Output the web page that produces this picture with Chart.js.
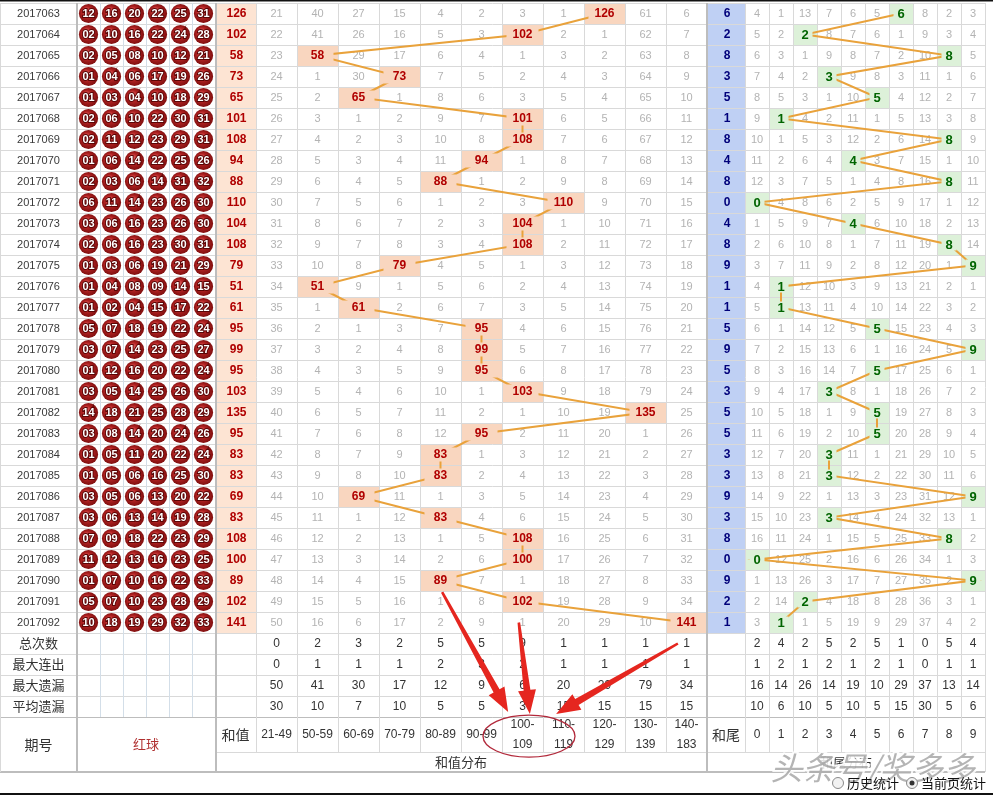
<!DOCTYPE html>
<html>
<head>
<meta charset="utf-8">
<script src="https://cdn.jsdelivr.net/npm/chart.js"></script>
<style>
html,body{margin:0;padding:0;background:#fff;}
#wrap{width:993px;height:795px;position:relative;}
</style>
</head>
<body>
<div id="wrap"><canvas id="c"></canvas></div>
<script>
// ---------------- DATA ----------------
const periods = ['2017063','2017064','2017065','2017066','2017067','2017068','2017069','2017070','2017071','2017072',
  '2017073','2017074','2017075','2017076','2017077','2017078','2017079','2017080','2017081','2017082',
  '2017083','2017084','2017085','2017086','2017087','2017088','2017089','2017090','2017091','2017092'];

const redBalls = [
  [12,16,20,22,25,31],[2,10,16,22,24,28],[2,5,8,10,12,21],[1,4,6,17,19,26],[1,3,4,10,18,29],
  [2,6,10,22,30,31],[2,11,12,23,29,31],[1,6,14,22,25,26],[2,3,6,14,31,32],[6,11,14,23,26,30],
  [3,6,16,23,26,30],[2,6,16,23,30,31],[1,3,6,19,21,29],[1,4,8,9,14,15],[1,2,4,15,17,22],
  [5,7,18,19,22,24],[3,7,14,23,25,27],[1,12,16,20,22,24],[3,5,14,25,26,30],[14,18,21,25,28,29],
  [3,8,14,20,24,26],[1,5,11,20,22,24],[1,5,6,16,25,30],[3,5,6,13,20,22],[3,6,13,14,19,28],
  [7,9,18,22,23,29],[11,12,13,16,23,25],[1,7,10,16,22,33],[5,7,10,23,28,29],[10,18,19,29,32,33]
];

const sums = [126,102,58,73,65,101,108,94,88,110,104,108,79,51,61,95,99,95,103,135,95,83,83,69,83,108,100,89,102,141];

const sumBuckets = ['21-49','50-59','60-69','70-79','80-89','90-99','100-109','110-119','120-129','130-139','140-183'];

// omission table of the sum distribution (0 = hit cell)
const sumMiss = [
  [21,40,27,15,4,2,3,1,0,61,6],[22,41,26,16,5,3,0,2,1,62,7],[23,0,29,17,6,4,1,3,2,63,8],
  [24,1,30,0,7,5,2,4,3,64,9],[25,2,0,1,8,6,3,5,4,65,10],[26,3,1,2,9,7,0,6,5,66,11],
  [27,4,2,3,10,8,0,7,6,67,12],[28,5,3,4,11,0,1,8,7,68,13],[29,6,4,5,0,1,2,9,8,69,14],
  [30,7,5,6,1,2,3,0,9,70,15],[31,8,6,7,2,3,0,1,10,71,16],[32,9,7,8,3,4,0,2,11,72,17],
  [33,10,8,0,4,5,1,3,12,73,18],[34,0,9,1,5,6,2,4,13,74,19],[35,1,0,2,6,7,3,5,14,75,20],
  [36,2,1,3,7,0,4,6,15,76,21],[37,3,2,4,8,0,5,7,16,77,22],[38,4,3,5,9,0,6,8,17,78,23],
  [39,5,4,6,10,1,0,9,18,79,24],[40,6,5,7,11,2,1,10,19,0,25],[41,7,6,8,12,0,2,11,20,1,26],
  [42,8,7,9,0,1,3,12,21,2,27],[43,9,8,10,0,2,4,13,22,3,28],[44,10,0,11,1,3,5,14,23,4,29],
  [45,11,1,12,0,4,6,15,24,5,30],[46,12,2,13,1,5,0,16,25,6,31],[47,13,3,14,2,6,0,17,26,7,32],
  [48,14,4,15,0,7,1,18,27,8,33],[49,15,5,16,1,8,0,19,28,9,34],[50,16,6,17,2,9,1,20,29,10,0]
];

const tailDigits = ['0','1','2','3','4','5','6','7','8','9'];

// omission table of the tail distribution (0 = hit cell)
const tailMiss = [
  [4,1,13,7,6,5,0,8,2,3],[5,2,0,8,7,6,1,9,3,4],[6,3,1,9,8,7,2,10,0,5],[7,4,2,0,9,8,3,11,1,6],
  [8,5,3,1,10,0,4,12,2,7],[9,0,4,2,11,1,5,13,3,8],[10,1,5,3,12,2,6,14,0,9],[11,2,6,4,0,3,7,15,1,10],
  [12,3,7,5,1,4,8,16,0,11],[0,4,8,6,2,5,9,17,1,12],[1,5,9,7,0,6,10,18,2,13],[2,6,10,8,1,7,11,19,0,14],
  [3,7,11,9,2,8,12,20,1,0],[4,0,12,10,3,9,13,21,2,1],[5,0,13,11,4,10,14,22,3,2],[6,1,14,12,5,0,15,23,4,3],
  [7,2,15,13,6,1,16,24,5,0],[8,3,16,14,7,0,17,25,6,1],[9,4,17,0,8,1,18,26,7,2],[10,5,18,1,9,0,19,27,8,3],
  [11,6,19,2,10,0,20,28,9,4],[12,7,20,0,11,1,21,29,10,5],[13,8,21,0,12,2,22,30,11,6],[14,9,22,1,13,3,23,31,12,0],
  [15,10,23,0,14,4,24,32,13,1],[16,11,24,1,15,5,25,33,0,2],[0,12,25,2,16,6,26,34,1,3],[1,13,26,3,17,7,27,35,2,0],
  [2,14,0,4,18,8,28,36,3,1],[3,0,1,5,19,9,29,37,4,2]
];

const statLabels = ['总次数','最大连出','最大遗漏','平均遗漏'];
const sumTotal   = [0,2,3,2,5,5,9,1,1,1,1];
const sumMaxRun  = [0,1,1,1,2,3,2,1,1,1,1];
const sumMaxMiss = [50,41,30,17,12,9,6,20,29,79,34];
const sumAvgMiss = [30,10,7,10,5,5,3,15,15,15,15];
const tailTotal   = [2,4,2,5,2,5,1,0,5,4];
const tailMaxRun  = [1,2,1,2,1,2,1,0,1,1];
const tailMaxMiss = [16,14,26,14,19,10,29,37,13,14];
const tailAvgMiss = [10,6,10,5,10,5,15,30,5,6];

// ---------------- DERIVED ----------------
const bucketRanges = sumBuckets.map(l => l.split('-').map(Number));
const bucketOf = s => bucketRanges.findIndex(([a, b]) => s >= a && s <= b);
const sumHit = sums.map(bucketOf);
const tails = sums.map(s => s % 10);
const sumStats = [sumTotal, sumMaxRun, sumMaxMiss, sumAvgMiss];
const tailStats = [tailTotal, tailMaxRun, tailMaxMiss, tailAvgMiss];

// ---------------- STYLE ----------------
const SANS = '"Liberation Sans", Arial, sans-serif';
const CJK = '"Noto Sans CJK SC", sans-serif';
const C = {
  peach: '#fde4d3', hit: '#f9d6bf', blue: '#bfd0f4', green: '#ddf1d9',
  line: '#e9a23b', grid: '#d9d9d9', gridBall: '#d3dee8', sep: '#bdbdbd',
  miss: '#b3b3b3', sumText: '#b00000', tailText: '#00007a', tailHit: '#006400',
  text: '#333333', arrow: '#e5261f'
};

function txt(ctx, s, x, y, font, color, align) {
  ctx.font = font; ctx.fillStyle = color; ctx.textAlign = align || 'center';
  ctx.textBaseline = 'middle'; ctx.fillText(String(s), x, y);
}
function vline(ctx, x, y0, y1, color, w) {
  ctx.beginPath(); ctx.strokeStyle = color; ctx.lineWidth = w || 1;
  const xx = (w || 1) % 2 ? Math.round(x) + 0.5 : Math.round(x);
  ctx.moveTo(xx, y0); ctx.lineTo(xx, y1); ctx.stroke();
}
function hline(ctx, y, x0, x1, color, w) {
  ctx.beginPath(); ctx.strokeStyle = color; ctx.lineWidth = w || 1;
  const yy = (w || 1) % 2 ? Math.round(y) + 0.5 : Math.round(y);
  ctx.moveTo(x0, yy); ctx.lineTo(x1, yy); ctx.stroke();
}
function arrow(ctx, x0, y0, x1, y1, color) {
  const dx = x1 - x0, dy = y1 - y0, L = Math.hypot(dx, dy), ux = dx / L, uy = dy / L, nx = -uy, ny = ux;
  const headL = 24, headW = 9, w0 = 1.3, w1 = 3.4;
  const bx = x1 - ux * headL, by = y1 - uy * headL;
  ctx.beginPath();
  ctx.moveTo(x0 + nx * w0, y0 + ny * w0);
  ctx.lineTo(bx + nx * w1, by + ny * w1);
  ctx.lineTo(bx + nx * headW, by + ny * headW);
  ctx.lineTo(x1, y1);
  ctx.lineTo(bx - nx * headW, by - ny * headW);
  ctx.lineTo(bx - nx * w1, by - ny * w1);
  ctx.lineTo(x0 - nx * w0, y0 - ny * w0);
  ctx.closePath(); ctx.fillStyle = color; ctx.fill();
}

function helpers(chart) {
  const s = chart.scales;
  return {
    xs: v => s.xs.getPixelForValue(v), xt: v => s.xt.getPixelForValue(v),
    xb: v => s.xb.getPixelForValue(v), y: v => s.y.getPixelForValue(v)
  };
}

const HDR_UP = 35 / 21, HDR_ALL = 55 / 21;   // header heights in row units

const tablePlugin = {
  id: 'lotteryTable',
  beforeDatasetsDraw(chart) {
    const ctx = chart.ctx; const { xs, xt, xb, y } = helpers(chart);
    const N = periods.length, NS = statLabels.length, NB = sumBuckets.length, NT = tailDigits.length;
    const pR = xb(0), bR = xb(6), sR = xs(0), dR = xs(NB), tR = xt(0), eR = xt(NT);
    const yTop = y(0), yData = y(N), yStat = y(N + NS), yHU = y(N + NS + HDR_UP), yHB = y(N + NS + HDR_ALL);
    ctx.save();
    ctx.fillStyle = '#fff'; ctx.fillRect(0, 0, chart.width, chart.height);
    ctx.fillStyle = C.peach; ctx.fillRect(bR, yTop, sR - bR, yData - yTop);
    ctx.fillStyle = C.blue; ctx.fillRect(dR + 1, yTop, tR - dR - 1, yData - yTop);
    for (let i = 0; i < N; i++) {
      const b = sumHit[i], t = tails[i];
      ctx.fillStyle = C.hit; ctx.fillRect(xs(b), y(i), xs(b + 1) - xs(b), y(i + 1) - y(i));
      ctx.fillStyle = C.green; ctx.fillRect(xt(t), y(i), xt(t + 1) - xt(t), y(i + 1) - y(i));
    }
    for (let r = 0; r <= N + NS; r++) hline(ctx, y(r), 0, eR, C.grid, 1);
    hline(ctx, yHU, bR, eR, C.grid, 1);
    hline(ctx, yStat, 0, eR, C.sep, 1);
    hline(ctx, yHB, 0, eR, C.sep, 2);
    vline(ctx, 0, yTop, yHB, C.grid, 1);
    for (let k = 1; k < 6; k++) vline(ctx, xb(k), yTop, yStat, C.gridBall, 1);
    for (let j = 1; j < NB; j++) vline(ctx, xs(j), yTop, yHU, C.grid, 1);
    vline(ctx, sR, yTop, yHU, C.grid, 1);
    for (let j = 1; j < NT; j++) vline(ctx, xt(j), yTop, yHU, C.grid, 1);
    vline(ctx, tR, yTop, yHU, C.grid, 1);
    vline(ctx, eR, yTop, yHB, C.grid, 1);
    vline(ctx, pR, yTop, yHB, C.sep, 2);
    vline(ctx, bR + 1, yTop, yHB, C.sep, 2);
    vline(ctx, dR, yTop, yHB, C.sep, 2);

    for (let i = 0; i < N; i++) {
      const cy = y(i + 0.5);
      txt(ctx, periods[i], pR / 2, cy, '11px ' + SANS, '#3a3a3a');
      redBalls[i].forEach((n, k) => {
        const cx = xb(k + 0.5);
        const g = ctx.createRadialGradient(cx - 3, cy - 3, 1, cx, cy, 10);
        g.addColorStop(0, '#e86a6a'); g.addColorStop(0.45, '#b52424'); g.addColorStop(1, '#7c0d0d');
        ctx.beginPath(); ctx.arc(cx, cy, 9.6, 0, Math.PI * 2); ctx.fillStyle = g; ctx.fill();
        const s = String(n).padStart(2, '0');
        ctx.font = 'bold 11px ' + SANS; ctx.textAlign = 'center'; ctx.textBaseline = 'middle';
        ctx.lineWidth = 2; ctx.strokeStyle = '#5a0505'; ctx.strokeText(s, cx, cy + 0.5);
        ctx.fillStyle = '#fff'; ctx.fillText(s, cx, cy + 0.5);
      });
      txt(ctx, sums[i], (bR + sR) / 2 + 1, cy, 'bold 12px ' + SANS, C.sumText);
      sumMiss[i].forEach((v, j) => { if (j !== sumHit[i]) txt(ctx, v, xs(j + 0.5), cy, '11px ' + SANS, C.miss); });
      txt(ctx, tails[i], (dR + tR) / 2 + 1, cy, 'bold 12px ' + SANS, C.tailText);
      tailMiss[i].forEach((v, j) => { if (j !== tails[i]) txt(ctx, v, xt(j + 0.5), cy, '11px ' + SANS, C.miss); });
    }
    for (let r = 0; r < NS; r++) {
      const cy = y(N + r + 0.5);
      txt(ctx, statLabels[r], pR / 2, cy, '13px ' + CJK, C.text);
      sumStats[r].forEach((v, j) => txt(ctx, v, xs(j + 0.5), cy, '12px ' + SANS, C.text));
      tailStats[r].forEach((v, j) => txt(ctx, v, xt(j + 0.5), cy, '12px ' + SANS, C.text));
    }
    const hMid = (yStat + yHB) / 2, uMid = (yStat + yHU) / 2, lMid = (yHU + yHB) / 2;
    txt(ctx, '期号', pR / 2, hMid, '14px ' + CJK, C.text);
    txt(ctx, '红球', (pR + bR) / 2, hMid, '13px ' + CJK, '#b03030');
    txt(ctx, '和值', (bR + sR) / 2, uMid, '14px ' + CJK, C.text);
    sumBuckets.forEach((l, j) => {
      const cx = xs(j + 0.5);
      if (l.length > 5) {
        const [a, b] = l.split('-');
        txt(ctx, a + '-', cx, uMid - 10, '12px ' + SANS, C.text);
        txt(ctx, b, cx, uMid + 10, '12px ' + SANS, C.text);
      } else txt(ctx, l, cx, uMid, '12px ' + SANS, C.text);
    });
    txt(ctx, '和值分布', (bR + dR) / 2, lMid, '13px ' + CJK, C.text);
    txt(ctx, '和尾', (dR + tR) / 2, uMid, '14px ' + CJK, C.text);
    tailDigits.forEach((d, j) => txt(ctx, d, xt(j + 0.5), uMid, '12px ' + SANS, C.text));
    txt(ctx, '和尾分布', (dR + eR) / 2, lMid, '13px ' + CJK, C.text);
    ctx.restore();
  },
  beforeDatasetDraw(chart, args) {
    const ctx = chart.ctx; const { xs, xt, y } = helpers(chart);
    ctx.save();
    ctx.beginPath();
    ctx.rect(0, 0, chart.width, chart.height);
    if (args.index === 0) sumHit.forEach((b, i) => { const cx = xs(b + 0.5), cy = y(i + 0.5); ctx.rect(cx - 16, cy - 7, 32, 14); });
    else tails.forEach((t, i) => { const cx = xt(t + 0.5), cy = y(i + 0.5); ctx.rect(cx - 7.5, cy - 6, 15, 12); });
    ctx.clip('evenodd');
  },
  afterDatasetDraw(chart) { chart.ctx.restore(); },
  afterDatasetsDraw(chart) {
    const ctx = chart.ctx; const { xs, xt, y } = helpers(chart);
    const N = periods.length, NS = statLabels.length, NT = tailDigits.length;
    ctx.save();
    for (let i = 0; i < N; i++) {
      const cy = y(i + 0.5);
      txt(ctx, sums[i], xs(sumHit[i] + 0.5), cy + 0.5, 'bold 12px ' + SANS, C.sumText);
      txt(ctx, tails[i], xt(tails[i] + 0.5), cy + 0.5, 'bold 13px ' + SANS, C.tailHit);
    }
    const hy = y(N + NS + HDR_UP / 2 + 0.08);
    ctx.beginPath(); ctx.ellipse(xs(7) - 14, hy, 46, 21, 0, 0, Math.PI * 2);
    ctx.strokeStyle = '#b2283a'; ctx.lineWidth = 1.3; ctx.stroke();
    arrow(ctx, xs(4.54), y(28.05), xs(6.15), y(33.76), C.arrow);
    arrow(ctx, xs(6.41), y(29.5), xs(6.68), y(33.86), C.arrow);
    arrow(ctx, xs(10.29), y(30.5), xs(7.32), y(33.86), C.arrow);

    const eR = xt(NT), yb = y(N + NS + HDR_ALL);
    ctx.font = 'italic 32px ' + CJK; ctx.textAlign = 'right'; ctx.textBaseline = 'middle';
    ctx.lineWidth = 4; ctx.strokeStyle = 'rgba(255,255,255,0.85)'; ctx.strokeText('头条号/奖多多', eR - 10, yb - 4);
    ctx.fillStyle = 'rgba(130,130,130,0.6)'; ctx.fillText('头条号/奖多多', eR - 10, yb - 4);

    const ry = yb + 11;
    const radio = (cx, on) => {
      ctx.beginPath(); ctx.arc(cx, ry, 5.5, 0, Math.PI * 2); ctx.fillStyle = '#f2f2f2'; ctx.fill();
      ctx.strokeStyle = '#8a8a8a'; ctx.lineWidth = 1; ctx.stroke();
      if (on) { ctx.beginPath(); ctx.arc(cx, ry, 2.5, 0, Math.PI * 2); ctx.fillStyle = '#333'; ctx.fill(); }
    };
    radio(eR - 147, false); txt(ctx, '历史统计', eR - 138, ry, '13px ' + CJK, '#111', 'left');
    radio(eR - 73, true); txt(ctx, '当前页统计', eR - 64, ry, '13px ' + CJK, '#111', 'left');

    ctx.fillStyle = '#111';
    ctx.fillRect(0, 0, chart.width, 1.5);
    ctx.fillRect(0, chart.height - 2, chart.width, 2);
    ctx.restore();
  }
};

function linScale(px0, unit, total, reverse) {
  const min = -px0 / unit;
  return { type: 'linear', display: false, bounds: 'data', grace: 0, min: min, max: min + total / unit, reverse: !!reverse };
}

new Chart(document.getElementById('c'), {
  type: 'line',
  data: {
    datasets: [
      { label: '和值走势', data: sums.map((v, i) => ({ x: sumHit[i] + 0.5, y: i + 0.5 })),
        xAxisID: 'xs', yAxisID: 'y', borderColor: C.line, borderWidth: 2, pointRadius: 0, fill: false, tension: 0 },
      { label: '和尾走势', data: tails.map((t, i) => ({ x: t + 0.5, y: i + 0.5 })),
        xAxisID: 'xt', yAxisID: 'y', borderColor: C.line, borderWidth: 2, pointRadius: 0, fill: false, tension: 0 }
    ]
  },
  options: {
    responsive: true, maintainAspectRatio: false, animation: false, events: [],
    layout: { padding: 0 },
    plugins: { legend: { display: false }, tooltip: { enabled: false } },
    scales: {
      xs: Object.assign(linScale(256, 41, 993), { position: 'bottom', axis: 'x' }),
      xt: Object.assign(linScale(745, 24, 993), { position: 'bottom', axis: 'x' }),
      xb: Object.assign(linScale(77, 23, 993), { position: 'bottom', axis: 'x' }),
      y: Object.assign(linScale(3, 21, 795, true), { position: 'left', axis: 'y' })
    }
  },
  plugins: [tablePlugin]
});
</script>
</body>
</html>
